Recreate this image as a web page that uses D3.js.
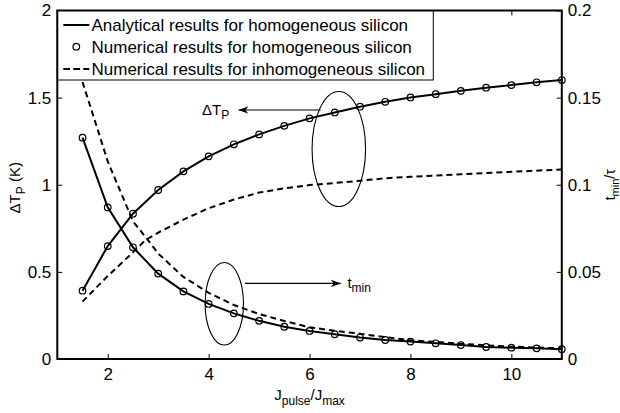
<!DOCTYPE html>
<html>
<head>
<meta charset="utf-8">
<script src="https://cdn.jsdelivr.net/npm/d3@7"></script>
<style>
  html, body { margin: 0; padding: 0; background: #fff; }
  svg { display: block; }
  text { font-family: "Liberation Sans", Arial, Helvetica, sans-serif; fill: #000; }
</style>
</head>
<body>
<script>
// Current ratio J_pulse / J_max (sample points of the homogeneous model)
const jRatio = [1.5, 2, 2.5, 3, 3.5, 4, 4.5, 5, 5.5, 6, 6.5, 7, 7.5, 8, 8.5, 9, 9.5, 10, 10.5, 11];
// Peak temperature rise ΔT_P (K), homogeneous silicon
const dTHom = [0.392, 0.648, 0.834, 0.970, 1.077, 1.163, 1.232, 1.289, 1.338, 1.381,
               1.415, 1.448, 1.476, 1.501, 1.520, 1.539, 1.557, 1.572, 1.588, 1.601];
// Normalised time of minimum t_min/τ, homogeneous silicon
const tHom = [0.127, 0.087, 0.0641, 0.0490, 0.0388, 0.0316, 0.0262, 0.0219, 0.0185, 0.0161,
              0.0142, 0.0123, 0.0109, 0.0100, 0.0090, 0.0080, 0.0069, 0.0065, 0.0061, 0.0056];

// Sample points of the inhomogeneous simulation
const jRatioInh = [1.5, 2, 2.5, 2.75, 3, 3.5, 4, 4.5, 5, 5.5, 6, 6.5, 7, 7.5, 8, 8.5, 9, 9.5, 10, 10.5, 11];
const dTInh = [0.329, 0.476, 0.612, 0.683, 0.725, 0.800, 0.865, 0.915, 0.955, 0.980, 0.998,
               1.010, 1.023, 1.037, 1.046, 1.053, 1.060, 1.067, 1.074, 1.081, 1.088];
const tInh = [0.159, 0.1134, 0.079, 0.070, 0.0605, 0.0471, 0.038, 0.031, 0.0258, 0.0218, 0.0182,
              0.0162, 0.0145, 0.0125, 0.0108, 0.0098, 0.0088, 0.0078, 0.0071, 0.0066, 0.0061];

// Axis ticks
const xTicks = [2, 4, 6, 8, 10];
const yLeftTicks = [0, 0.5, 1, 1.5, 2];
const yRightTicks = [0, 0.05, 0.1, 0.15, 0.2];

const legendLabels = [
  "Analytical results for homogeneous silicon",
  "Numerical results for homogeneous silicon",
  "Numerical results for inhomogeneous silicon"
];

const W = 620, H = 413;
const box = { left: 57.3, right: 561.8, top: 10.5, bottom: 359 };

const svg = d3.select("body").append("svg").attr("width", W).attr("height", H);

const x = d3.scaleLinear().domain([1, 11]).range([box.left, box.right]);
const yL = d3.scaleLinear().domain([0, 2]).range([box.bottom, box.top]);
const yR = d3.scaleLinear().domain([0, 0.2]).range([box.bottom, box.top]);

// arrowhead
const defs = svg.append("defs");
defs.append("marker")
  .attr("id", "arrow")
  .attr("markerUnits", "userSpaceOnUse")
  .attr("viewBox", "-10 -5 11 10")
  .attr("refX", 0).attr("refY", 0)
  .attr("markerWidth", 11).attr("markerHeight", 10)
  .attr("orient", "auto")
  .append("path")
  .attr("d", "M0,0 L-10,-3.6 L-7,0 L-10,3.6 Z")
  .attr("fill", "#000");

// ---- curves ----
const plot = svg.append("g");

const lineL = (xs, ys) => d3.line().x((d, i) => x(xs[i])).y(d => yL(d))(ys);
const lineR = (xs, ys) => d3.line().x((d, i) => x(xs[i])).y(d => yR(d))(ys);

// inhomogeneous (dashed)
plot.append("path").attr("d", lineL(jRatioInh, dTInh))
  .attr("fill", "none").attr("stroke", "#000").attr("stroke-width", 2)
  .attr("stroke-dasharray", "6,4");
plot.append("path").attr("d", lineR(jRatioInh, tInh))
  .attr("fill", "none").attr("stroke", "#000").attr("stroke-width", 2)
  .attr("stroke-dasharray", "6,4");

// analytical homogeneous (solid)
plot.append("path").attr("d", lineL(jRatio, dTHom))
  .attr("fill", "none").attr("stroke", "#000").attr("stroke-width", 2);
plot.append("path").attr("d", lineR(jRatio, tHom))
  .attr("fill", "none").attr("stroke", "#000").attr("stroke-width", 2);

// numerical homogeneous (circles)
plot.selectAll("circle.dT").data(dTHom).join("circle")
  .attr("class", "dT")
  .attr("cx", (d, i) => x(jRatio[i])).attr("cy", d => yL(d))
  .attr("r", 3.3).attr("fill", "none").attr("stroke", "#000").attr("stroke-width", 1.2);
plot.selectAll("circle.tm").data(tHom).join("circle")
  .attr("class", "tm")
  .attr("cx", (d, i) => x(jRatio[i])).attr("cy", d => yR(d))
  .attr("r", 3.3).attr("fill", "none").attr("stroke", "#000").attr("stroke-width", 1.2);

// ---- annotations ----
const ann = svg.append("g").attr("fill", "none").attr("stroke", "#000").attr("stroke-width", 1.1);
// ellipse grouping the ΔT_P curves
ann.append("ellipse")
  .attr("cx", x(6.58)).attr("cy", yL(1.205))
  .attr("rx", x(6.58 + 0.53) - x(6.58)).attr("ry", yL(1.205) - yL(1.205 + 0.33));
ann.append("line")
  .attr("x1", x(6.22)).attr("y1", yL(1.4286))
  .attr("x2", x(4.59)).attr("y2", yL(1.4286))
  .attr("marker-end", "url(#arrow)");
// ellipse grouping the t_min curves
ann.append("ellipse")
  .attr("cx", x(4.31)).attr("cy", yL(0.317))
  .attr("rx", x(4.31 + 0.38) - x(4.31)).attr("ry", yL(0.317) - yL(0.317 + 0.237));
ann.append("line")
  .attr("x1", x(4.72)).attr("y1", yL(0.434))
  .attr("x2", x(6.62)).attr("y2", yL(0.434))
  .attr("marker-end", "url(#arrow)");

function subText(sel, parts, mainSize, subSize) {
  // parts: [text, isSub]
  let shifted = false;
  parts.forEach(([t, sub]) => {
    const ts = sel.append("tspan").text(t)
      .attr("font-size", sub ? subSize : mainSize);
    if (sub && !shifted) { ts.attr("dy", mainSize * 0.3); shifted = true; }
    else if (!sub && shifted) { ts.attr("dy", -mainSize * 0.3); shifted = false; }
  });
  return sel;
}

subText(svg.append("text").attr("x", x(3.87)).attr("y", yL(1.4286) + 4.5),
  [["ΔT", false], ["P", true]], 15, 12);
subText(svg.append("text").attr("x", x(6.75)).attr("y", yL(0.434) + 4.5),
  [["t", false], ["min", true]], 15, 12);

// ---- axes (inward ticks) ----
const axes = svg.append("g");
const styleAxis = g => {
  g.select(".domain").remove();
  g.selectAll(".tick line").attr("stroke", "#000").attr("stroke-width", 1);
  g.selectAll(".tick text").attr("font-size", 17).attr("font-family", null);
};

axes.append("g").attr("transform", `translate(0,${box.bottom})`)
  .call(d3.axisBottom(x).tickValues(xTicks).tickFormat(d3.format("d"))
    .tickSizeInner(-5).tickSizeOuter(0).tickPadding(9))
  .call(styleAxis);
axes.append("g").attr("transform", `translate(0,${box.top})`)
  .call(d3.axisTop(x).tickValues(xTicks).tickFormat("")
    .tickSizeInner(-5).tickSizeOuter(0))
  .call(styleAxis);
axes.append("g").attr("transform", `translate(${box.left},0)`)
  .call(d3.axisLeft(yL).tickValues(yLeftTicks).tickFormat(d => d3.format("")(d))
    .tickSizeInner(-5).tickSizeOuter(0).tickPadding(6))
  .call(styleAxis);
axes.append("g").attr("transform", `translate(${box.right},0)`)
  .call(d3.axisRight(yR).tickValues(yRightTicks).tickFormat(d => d3.format("")(d))
    .tickSizeInner(-5).tickSizeOuter(0).tickPadding(6))
  .call(styleAxis);

// ---- legend ----
const legend = svg.append("g");
const legW = 376, legH = 69.5;
legend.append("rect")
  .attr("x", box.left).attr("y", box.top).attr("width", legW).attr("height", legH)
  .attr("fill", "#fff").attr("stroke", "#000").attr("stroke-width", 1);
const rowY = [25, 46.7, 69];
const sx0 = 63.3, sx1 = 89.3;
legend.append("line").attr("x1", sx0).attr("x2", sx1).attr("y1", rowY[0]).attr("y2", rowY[0])
  .attr("stroke", "#000").attr("stroke-width", 2);
legend.append("circle").attr("cx", (sx0 + sx1) / 2).attr("cy", rowY[1]).attr("r", 3.3)
  .attr("fill", "none").attr("stroke", "#000").attr("stroke-width", 1.2);
legend.append("line").attr("x1", sx0).attr("x2", sx1).attr("y1", rowY[2]).attr("y2", rowY[2])
  .attr("stroke", "#000").attr("stroke-width", 2).attr("stroke-dasharray", "6.7,3.3");
legend.selectAll("text.leg").data(legendLabels).join("text")
  .attr("class", "leg")
  .attr("x", 91.5).attr("y", (d, i) => rowY[i] + 6)
  .attr("font-size", 17)
  .text(d => d);

// ---- frame ----
svg.append("rect")
  .attr("x", box.left).attr("y", box.top)
  .attr("width", box.right - box.left).attr("height", box.bottom - box.top)
  .attr("fill", "none").attr("stroke", "#000").attr("stroke-width", 2);

// ---- axis titles ----
subText(svg.append("text").attr("text-anchor", "middle")
    .attr("transform", `translate(${(box.left + box.right) / 2},400)`),
  [["J", false], ["pulse", true], ["/J", false], ["max", true]], 15, 12);

subText(svg.append("text").attr("text-anchor", "middle")
    .attr("transform", `translate(20,${(box.top + box.bottom) / 2 + 3}) rotate(-90)`),
  [["ΔT", false], ["P", true], [" (K)", false]], 15, 12);

subText(svg.append("text").attr("text-anchor", "middle")
    .attr("transform", `translate(615,${(box.top + box.bottom) / 2}) rotate(-90)`),
  [["t", false], ["min", true], ["/τ", false]], 14, 11);
</script>
</body>
</html>
